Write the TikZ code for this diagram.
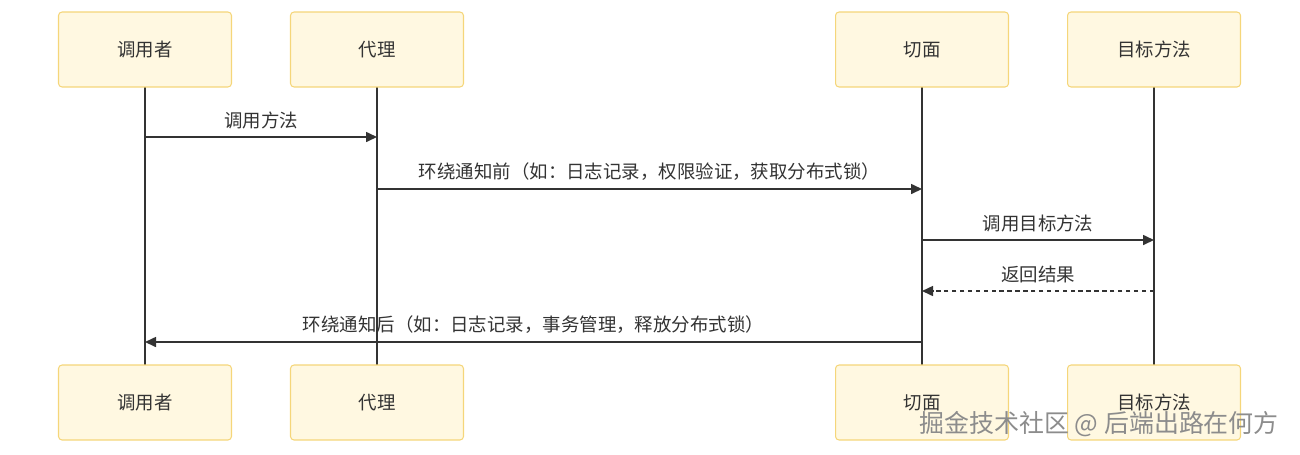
\documentclass[tikz,border=0pt]{standalone}
\usepackage{fontspec}
\setmainfont{Noto Sans CJK SC}
\usetikzlibrary{arrows.meta}
\definecolor{boxfill}{HTML}{FFF8E1}
\definecolor{boxline}{HTML}{F5D67A}
\definecolor{ink}{HTML}{333333}
\begin{document}
\begin{tikzpicture}[x=0.02cm,y=-0.02cm,
  actor/.style={draw=boxline,fill=boxfill,rounded corners=2pt,line width=0.6pt,
    minimum width=3.46cm,minimum height=1.5cm,font=\fontsize{10.5}{12}\selectfont,text=ink},
  life/.style={ink,line width=1.1pt},
  msg/.style={ink,line width=0.9pt,-{Triangle[length=0.22cm,width=0.2cm]}},
  reply/.style={msg,dash pattern=on 2.5pt off 2pt},
  lbl/.style={above=1pt,font=\fontsize{10.5}{12}\selectfont,text=ink}]
  \useasboundingbox (0,0) rectangle (1300,454);
  % lifelines first, boxes on top
  \foreach \n/\x/\t in {caller/145/调用者,proxy/377/代理,aspect/922/切面,target/1154/目标方法}{
    \coordinate (\n-a) at (\x,87);
    \coordinate (\n-b) at (\x,365);
    \draw[life] (\n-a) -- (\n-b);
    \node[actor] (\n-top) at (\x,49.5) {\t};
    \node[actor] (\n-bot) at (\x,402.5) {\t};
  }
  % messages
  \draw[msg] (caller-top.south |- 0,137) -- node[lbl] {调用方法} (proxy-top.south |- 0,137);
  \draw[msg] (proxy-top.south |- 0,189) -- node[lbl] {环绕通知前（如：日志记录，权限验证，获取分布式锁）} (aspect-top.south |- 0,189);
  \draw[msg] (aspect-top.south |- 0,240) -- node[lbl] {调用目标方法} (target-top.south |- 0,240);
  \draw[reply] (target-top.south |- 0,291) -- node[lbl] {返回结果} (aspect-top.south |- 0,291);
  \draw[msg] (aspect-top.south |- 0,342) -- node[lbl] {环绕通知后（如：日志记录，事务管理，释放分布式锁）} (caller-top.south |- 0,342);
  % watermark
  \node[anchor=east,font=\fontsize{14.2}{16}\selectfont,text=gray!90] (mark) at (1285,424) {掘金技术社区 @ 后端出路在何方};
\end{tikzpicture}
\end{document}
